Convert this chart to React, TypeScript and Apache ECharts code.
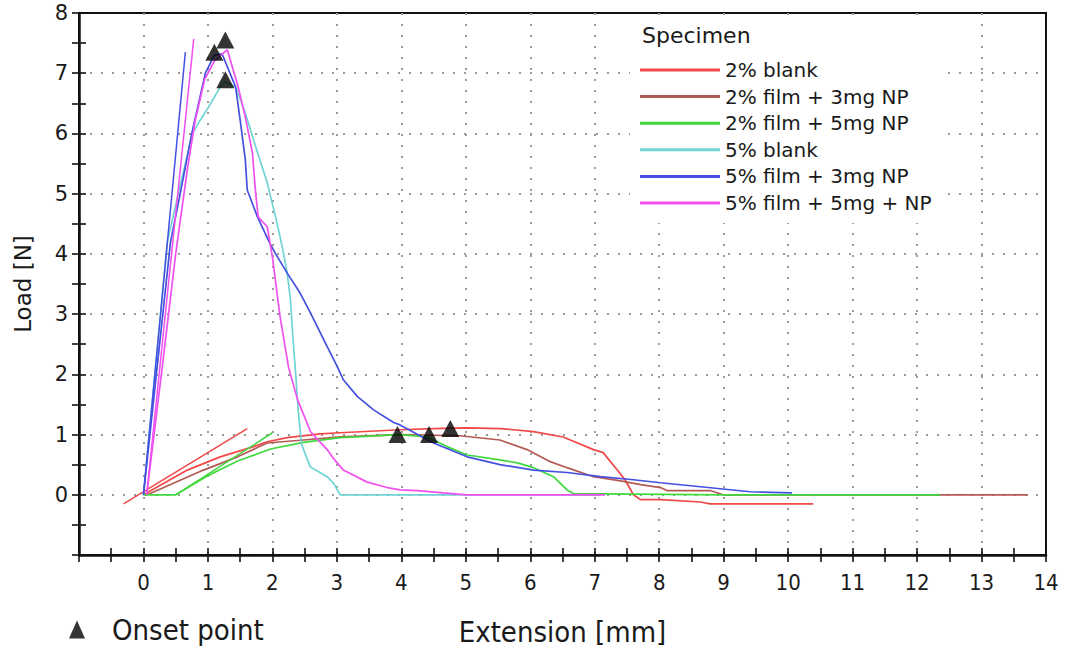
import { useEffect, useRef } from "react";
import * as echarts from "echarts";

type Pt = [number, number];

// Specimen names and their curve colours
const specimenNames = [
  "2% blank",
  "2% film + 3mg NP",
  "2% film + 5mg NP",
  "5% blank",
  "5% film + 3mg NP",
  "5% film + 5mg + NP",
];
const specimenColors = ["#f04848", "#b45a55", "#3fd83f", "#70d4d4", "#4650e0", "#f050f0"];

// Load [N] vs extension [mm] curves
const blank2: Pt[] = [
  [0, 0], [0.68, 0.41], [1.19, 0.63], [1.71, 0.8], [1.92, 0.88], [2.23, 0.95], [2.74, 1.01],
  [3.05, 1.03], [3.98, 1.08], [4.5, 1.1], [5.02, 1.11], [5.53, 1.1], [6.05, 1.05], [6.51, 0.96],
  [6.98, 0.75], [7.13, 0.7], [7.35, 0.41], [7.47, 0.25], [7.6, 0.0], [7.71, -0.08], [8.02, -0.08],
  [8.64, -0.12], [8.79, -0.15], [10.39, -0.15],
];
const film3mg2: Pt[] = [
  [0.06, 0], [0.93, 0.41], [1.46, 0.63], [1.92, 0.86], [2.48, 0.91], [3.05, 0.96], [3.98, 1.0],
  [4.91, 0.98], [5.53, 0.91], [5.95, 0.75], [6.31, 0.55], [6.57, 0.45], [6.98, 0.3], [7.4, 0.23],
  [7.71, 0.17], [8.02, 0.12], [8.12, 0.07], [8.79, 0.07], [8.99, 0], [13.72, 0],
];
const film5mg2: Pt[] = [
  [0, 0], [0.5, 0], [0.99, 0.31], [1.46, 0.56], [1.97, 0.76], [2.48, 0.87], [3.05, 0.95],
  [3.98, 1.0], [4.4, 0.96], [4.71, 0.8], [5.02, 0.66], [5.53, 0.58], [5.8, 0.53], [6.05, 0.45],
  [6.36, 0.3], [6.57, 0.08], [6.67, 0.02], [9, 0], [12.36, 0],
];
const blank5: Pt[] = [
  [0, 0], [0.37, 4.2], [0.54, 5.0], [0.76, 6.0], [0.88, 6.22], [1.01, 6.44], [1.19, 6.77],
  [1.26, 6.86], [1.43, 6.77], [1.58, 6.34], [1.77, 5.68], [1.92, 5.18], [2.05, 4.61], [2.12, 4.28],
  [2.17, 4.02], [2.23, 3.68], [2.28, 3.24], [2.31, 2.74], [2.36, 2.02], [2.4, 1.4], [2.45, 0.85],
  [2.5, 0.7], [2.59, 0.46], [2.85, 0.3], [2.95, 0.19], [3.05, 0], [7.1, 0],
];
const film3mg5: Pt[] = [
  [0, 0], [0.2, 2.0], [0.42, 4.2], [0.57, 5.0], [0.75, 6.0], [0.96, 7.0], [1.1, 7.3], [1.22, 7.32],
  [1.43, 6.77], [1.5, 6.22], [1.58, 5.56], [1.61, 5.06], [1.77, 4.61], [1.95, 4.2], [2.05, 4.0],
  [2.23, 3.68], [2.43, 3.35], [2.59, 3.02], [2.85, 2.46], [3.01, 2.12], [3.1, 1.91], [3.32, 1.63],
  [3.57, 1.41], [3.88, 1.2], [3.98, 1.16], [4.5, 0.86], [5.02, 0.63], [5.53, 0.5], [6.05, 0.41],
  [6.57, 0.37], [7.09, 0.3], [7.6, 0.25], [8.02, 0.2], [8.95, 0.1], [9.41, 0.05], [10.06, 0.03],
];
const film5mg5: Pt[] = [
  [0.05, 0], [0.3, 2.2], [0.5, 4.0], [0.68, 5.4], [0.8, 6.2], [0.95, 6.9], [1.1, 7.2], [1.3, 7.39],
  [1.47, 6.77], [1.58, 6.27], [1.69, 5.68], [1.74, 5.01], [1.78, 4.61], [1.92, 4.45], [2.0, 3.95],
  [2.12, 2.95], [2.25, 2.12], [2.39, 1.58], [2.59, 1.05], [2.7, 0.92], [2.85, 0.75], [2.95, 0.6],
  [3.1, 0.41], [3.47, 0.21], [3.78, 0.12], [3.98, 0.08], [4.25, 0.07], [4.65, 0.03], [5.02, 0],
  [7.16, 0],
];

// Straight fitted onset lines
const blank2Fit: Pt[] = [[-0.31, -0.15], [1.61, 1.1]];
const film5mg2Fit: Pt[] = [[0.5, 0], [2.0, 1.03]];
const film3mg5Fit: Pt[] = [[0, 0], [0.65, 7.35]];
const film5mg5Fit: Pt[] = [[0.05, 0], [0.78, 7.57]];

// Onset points
const onsetPoints: Pt[] = [
  [1.1, 7.35], [1.27, 7.55], [1.27, 6.89], [3.94, 1.0], [4.43, 1.0], [4.76, 1.1],
];

const xRange = [-1, 14];
const yRange = [-1, 8];

const curves = [blank2, film3mg2, film5mg2, blank5, film3mg5, film5mg5];
const fits: (Pt[] | null)[] = [blank2Fit, null, film5mg2Fit, null, film3mg5Fit, film5mg5Fit];

const narrow = "'DejaVu Sans Condensed', sans-serif";
const sans = "'DejaVu Sans', sans-serif";

export default function App() {
  const ref = useRef<HTMLDivElement>(null);

  useEffect(() => {
    if (!ref.current) return;
    const chart = echarts.init(ref.current, undefined, { renderer: "svg" });

    const lineSeries: any[] = [];
    curves.forEach((data, i) => {
      lineSeries.push({
        type: "line",
        name: specimenNames[i],
        data,
        showSymbol: false,
        symbol: "none",
        silent: true,
        itemStyle: { color: specimenColors[i] },
        lineStyle: { color: specimenColors[i], width: 1.7 },
      });
      const fit = fits[i];
      if (fit) {
        lineSeries.push({
          type: "line",
          name: specimenNames[i],
          data: fit,
          showSymbol: false,
          symbol: "none",
          silent: true,
          itemStyle: { color: specimenColors[i] },
          lineStyle: { color: specimenColors[i], width: 1.5 },
        });
      }
    });

    const tickStyle = { color: "#111", width: 1.6 };
    const baseX = {
      type: "value",
      min: xRange[0],
      max: xRange[1],
      interval: 1,
      position: "bottom",
    };
    const baseY = {
      type: "value",
      min: yRange[0],
      max: yRange[1],
      interval: 1,
      position: "left",
    };

    chart.setOption({
      animation: false,
      backgroundColor: "#fff",
      grid: {
        left: 79,
        right: 20,
        top: 13,
        bottom: 95,
        outerBoundsMode: "none",
        containLabel: false,
        show: true,
        borderColor: "#111",
        borderWidth: 2,
      },
      xAxis: [
        {
          ...baseX,
          name: "Extension [mm]",
          nameLocation: "middle",
          nameGap: 62,
          nameTextStyle: { fontFamily: narrow, fontSize: 29, color: "#1a1a1a" },
          axisLine: { show: true, onZero: false, lineStyle: { color: "#111", width: 2.5 } },
          axisTick: { show: true, length: 7, lineStyle: tickStyle },
          minorTick: { show: true, splitNumber: 2, length: 7, lineStyle: tickStyle },
          axisLabel: {
            margin: 16,
            fontFamily: narrow,
            fontSize: 22,
            color: "#1a1a1a",
            formatter: (v: number) => (v < 0 ? "" : String(v)),
          },
          splitLine: {
            show: true,
            showMinLine: false,
            showMaxLine: false,
            lineStyle: { color: "#9a9a9a", width: 2, type: [2, 9] },
          },
        },
        {
          ...baseX,
          axisLine: { show: false, onZero: false },
          axisTick: { show: true, inside: true, length: 7, lineStyle: tickStyle },
          minorTick: { show: true, splitNumber: 2, length: 7, lineStyle: tickStyle },
          axisLabel: { show: false },
          splitLine: { show: false },
        },
      ],
      yAxis: [
        {
          ...baseY,
          name: "Load [N]",
          nameLocation: "middle",
          nameGap: 45,
          nameTextStyle: { fontFamily: sans, fontSize: 23, color: "#1a1a1a" },
          axisLine: { show: true, onZero: false, lineStyle: { color: "#111", width: 2.5 } },
          axisTick: { show: true, length: 7, lineStyle: tickStyle },
          minorTick: { show: true, splitNumber: 2, length: 7, lineStyle: tickStyle },
          axisLabel: {
            margin: 11,
            fontFamily: sans,
            fontSize: 21,
            color: "#1a1a1a",
            formatter: (v: number) => (v < 0 ? "" : String(v)),
          },
          splitLine: {
            show: true,
            showMinLine: false,
            showMaxLine: false,
            lineStyle: { color: "#9a9a9a", width: 2, type: [2, 9] },
          },
        },
        {
          ...baseY,
          axisLine: { show: false, onZero: false },
          axisTick: { show: true, inside: true, length: 7, lineStyle: tickStyle },
          minorTick: { show: true, splitNumber: 2, length: 7, lineStyle: tickStyle },
          axisLabel: { show: false },
          splitLine: { show: false },
        },
      ],
      legend: [
        {
          data: specimenNames,
          orient: "vertical",
          left: 630,
          top: 20,
          padding: [40, 14, 10, 10],
          backgroundColor: "#fff",
          itemWidth: 80,
          itemHeight: 3,
          itemGap: 6.6,
          icon: "rect",
          selectedMode: false,
          textStyle: { fontFamily: sans, fontSize: 20, color: "#1a1a1a", lineHeight: 20 },
        },
        {
          data: [{ name: "Onset point", icon: "triangle" }],
          left: 69,
          top: 615,
          padding: 0,
          itemWidth: 16,
          itemHeight: 18,
          selectedMode: false,
          textStyle: {
            fontFamily: narrow,
            fontSize: 29,
            color: "#1a1a1a",
            padding: [0, 0, 0, 22],
          },
        },
      ],
      graphic: [
        {
          type: "text",
          left: 642,
          top: 24,
          z: 100,
          style: { text: "Specimen", fontFamily: sans, fontSize: 22, fill: "#1a1a1a" },
        },
      ],
      series: [
        ...lineSeries,
        {
          type: "scatter",
          name: "Onset point",
          data: onsetPoints,
          symbol: "triangle",
          symbolSize: [18, 17],
          itemStyle: { color: "#000" },
          silent: true,
          z: 10,
        },
      ],
    });

    return () => chart.dispose();
  }, []);

  return (
    <div
      ref={ref}
      style={{ position: "fixed", left: 0, top: 0, width: 1066, height: 650, background: "#fff" }}
    />
  );
}
